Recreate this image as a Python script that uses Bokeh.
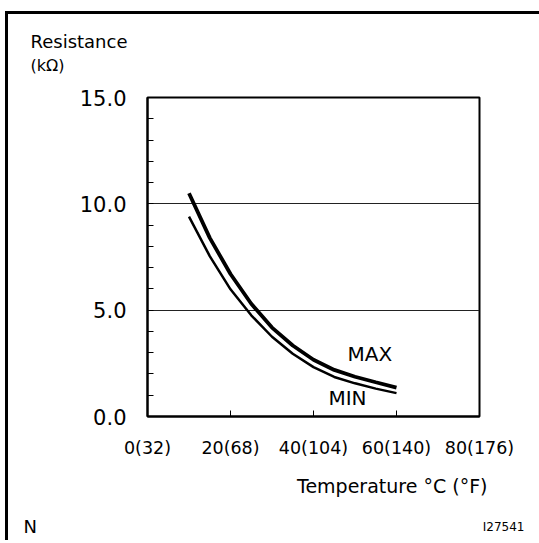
from bokeh.plotting import figure
from bokeh.models import Range1d, FixedTicker, ColumnDataSource, Label
from bokeh.layouts import column
from bokeh.core.properties import value
from bokeh.embed import file_html
from bokeh.resources import INLINE

# ---- data ----
temp_c = [10, 15, 20, 25, 30, 35, 40, 45, 50, 55, 60]
r_max = [10.5, 8.4, 6.7, 5.3, 4.18, 3.34, 2.67, 2.19, 1.87, 1.61, 1.36]
r_min = [9.4, 7.54, 5.98, 4.76, 3.75, 2.95, 2.32, 1.86, 1.56, 1.31, 1.10]

x_ticks = [0, 20, 40, 60, 80]
x_tick_labels = ["0(32)", "20(68)", "40(104)", "60(140)", "80(176)"]
y_ticks = [0, 5, 10, 15]
y_tick_labels = ["0.0", "5.0", "10.0", "15.0"]
y_minor = [1, 2, 3, 4, 6, 7, 8, 9, 11, 12, 13, 14]
grid_levels = [5, 10]

y_title = "Resistance"
y_unit = "(kΩ)"
x_title = "Temperature °C (°F)"
corner_left = "N"
corner_right = "I27541"

FONT = "DejaVu Sans"
W = 539
H_TOP, H_MAIN, H_BOT = 80, 380, 80


def strip(h):
    f = figure(width=W, height=h, output_backend="svg", toolbar_location=None,
               x_range=Range1d(0, W), y_range=Range1d(0, h),
               x_axis_type=None, y_axis_type=None)
    f.min_border_left = f.min_border_right = f.min_border_top = f.min_border_bottom = 0
    f.frame_align = False
    f.grid.visible = False
    f.outline_line_color = None
    f.background_fill_color = None
    f.border_fill_color = None
    return f


def txt(f, x, y, s, size, align="left"):
    f.text(x=[x], y=[y], text=[s], text_font=value(FONT), text_font_size=value(size),
           text_color="black", text_align=align, text_baseline="alphabetic")


# ---- top strip: y-axis title ----
top = strip(H_TOP)
txt(top, 30, 39, y_title, "18px")
txt(top, 30, 15, y_unit, "16px")

# ---- main chart ----
p = figure(width=W, height=H_MAIN, output_backend="svg", toolbar_location=None,
           x_range=Range1d(0, 80), y_range=Range1d(0, 15),
           min_border_left=147, min_border_right=60, min_border_top=17, min_border_bottom=43)
p.frame_align = False
p.outline_line_color = "black"
p.outline_line_width = 2
p.background_fill_color = "white"
p.border_fill_color = None

p.xaxis.ticker = FixedTicker(ticks=x_ticks)
p.xaxis.major_label_overrides = {t: l for t, l in zip(x_ticks, x_tick_labels)}
p.yaxis.ticker = FixedTicker(ticks=y_ticks, minor_ticks=y_minor)
p.yaxis.major_label_overrides = {t: l for t, l in zip(y_ticks, y_tick_labels)}

for ax in (p.xaxis, p.yaxis):
    ax.axis_line_color = "black"
    ax.axis_line_width = 2
    ax.major_tick_in = 6
    ax.major_tick_out = 0
    ax.minor_tick_in = 6
    ax.minor_tick_out = 0
    ax.major_tick_line_color = "black"
    ax.minor_tick_line_color = "black"
    ax.major_label_text_font = FONT
    ax.major_label_text_color = "black"
p.xaxis.minor_tick_line_color = None
p.xaxis.major_label_text_font_size = "17.5px"
p.xaxis.major_label_standoff = 21
p.yaxis.major_label_text_font_size = "21px"
p.yaxis.major_label_standoff = 21

p.xgrid.grid_line_color = None
p.ygrid.ticker = FixedTicker(ticks=grid_levels)
p.ygrid.grid_line_color = "#222222"
p.ygrid.grid_line_width = 1

src = ColumnDataSource(dict(t=temp_c, rmax=r_max, rmin=r_min))
p.line("t", "rmax", source=src, line_color="black", line_width=3.8)
p.line("t", "rmin", source=src, line_color="black", line_width=2.5)

p.add_layout(Label(x=48.2, y=2.92, text="MAX", text_font=FONT, text_font_size="20px",
                   text_color="black", text_baseline="alphabetic"))
p.add_layout(Label(x=43.6, y=0.89, text="MIN", text_font=FONT, text_font_size="20px",
                   text_color="black", text_baseline="alphabetic"))

# ---- bottom strip: x-axis title and corner marks ----
bot = strip(H_BOT)
txt(bot, 487, 55, x_title, "19px", "right")
txt(bot, 23, 14, corner_left, "18px")
txt(bot, 524, 14, corner_right, "12px", "right")

layout = column(top, p, bot, spacing=0)
layout.styles = {
    "background": ("linear-gradient(#000, #000) 5px 11px / 3px 100% no-repeat, "
                   "linear-gradient(#000, #000) 5px 11px / 100% 3px no-repeat, #fff"),
}

open("out.html", "w").write(file_html(layout, INLINE))
